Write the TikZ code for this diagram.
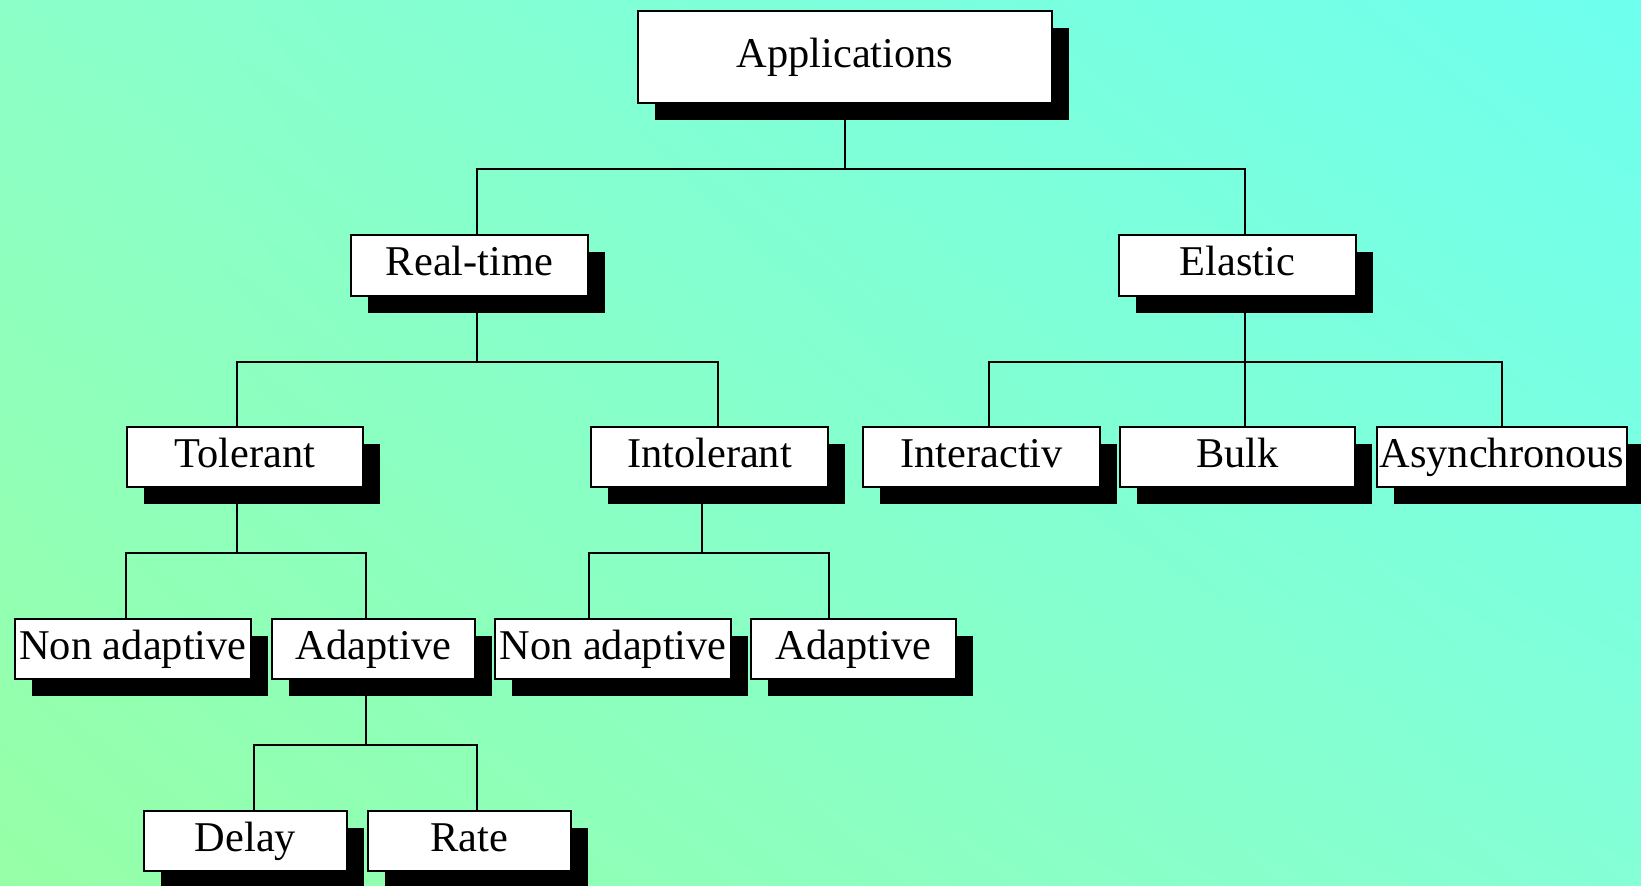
\documentclass[tikz,border=0pt]{standalone}
\usepackage{fontspec}
\setmainfont{Liberation Serif}
\usetikzlibrary{shadows,shadings}
\definecolor{bgUL}{RGB}{140,255,200}
\definecolor{bgUR}{RGB}{110,255,238}
\definecolor{bgLL}{RGB}{150,255,166}
\definecolor{bgLR}{RGB}{132,255,214}
\tikzset{
  box/.style={draw=black, line width=1pt, fill=white, inner sep=0pt,
    text height=14pt, text depth=4pt,
    font=\fontsize{21.2}{25}\selectfont,
    drop shadow={shadow xshift=8.5pt, shadow yshift=-8.5pt, fill=black, opacity=1}},
  conn/.style={draw=black, line width=1.15pt, line join=miter}
}
\newcommand\mybox[6]{%
  \node[box, minimum width={(#3-#2-2)*0.5pt}, minimum height={(#5-#4-2)*0.5pt}]
    (#1) at ({(#2+#3)/2},{(#4+#5)/2}) {#6};}
\begin{document}
\begin{tikzpicture}[x=0.5pt, y=-0.5pt]
\useasboundingbox (0,0) rectangle (1641,885);
\shade[upper left=bgUL, upper right=bgUR, lower left=bgLL, lower right=bgLR]
  (0,0) rectangle (1641,885);

% junction coordinates
\coordinate (b1l) at (477,169);  \coordinate (b1r) at (1245,169);
\coordinate (s2) at (477,362);   \coordinate (b2l) at (237,362);  \coordinate (b2r) at (718,362);
\coordinate (s3) at (1245,362);  \coordinate (b3l) at (989,362);  \coordinate (b3r) at (1502,362);
\coordinate (s4) at (237,553);   \coordinate (b4l) at (126,553);  \coordinate (b4r) at (366,553);
\coordinate (s5) at (702,553);   \coordinate (b5l) at (589,553);  \coordinate (b5r) at (829,553);
\coordinate (s6) at (366,745);   \coordinate (b6l) at (254,745);  \coordinate (b6r) at (477,745);

% connectors (drawn first, under the boxes)
\coordinate (appbot) at (845,104);
\coordinate (rtbot) at (477,297);
\coordinate (elbot) at (1245,297);
\coordinate (tolbot) at (237,488);
\coordinate (intbot) at (702,488);
\coordinate (adbot) at (366,680);
\draw[conn] (appbot) -- (appbot |- b1l);
\draw[conn] (b1l |- 0,234) -- (b1l) -- (b1r) -- (b1r |- 0,234);
\draw[conn] (rtbot) -- (s2);
\draw[conn] (b2l |- 0,426) -- (b2l) -- (b2r) -- (b2r |- 0,426);
\draw[conn] (elbot) -- (s3 |- 0,426);
\draw[conn] (b3l |- 0,426) -- (b3l) -- (b3r) -- (b3r |- 0,426);
\draw[conn] (tolbot) -- (s4);
\draw[conn] (b4l |- 0,618) -- (b4l) -- (b4r) -- (b4r |- 0,618);
\draw[conn] (intbot) -- (s5);
\draw[conn] (b5l |- 0,618) -- (b5l) -- (b5r) -- (b5r |- 0,618);
\draw[conn] (adbot) -- (s6);
\draw[conn] (b6l |- 0,810) -- (b6l) -- (b6r) -- (b6r |- 0,810);

% boxes
\mybox{app}{637}{1053}{10}{104}{Applications}
\mybox{rt}{350}{589}{234}{297}{Real-time}
\mybox{el}{1118}{1357}{234}{297}{Elastic}
\mybox{tol}{126}{364}{426}{488}{Tolerant}
\mybox{intol}{590}{829}{426}{488}{Intolerant}
\mybox{inter}{862}{1101}{426}{488}{Interactiv}
\mybox{bulk}{1119}{1356}{426}{488}{Bulk}
\mybox{async}{1376}{1628}{426}{488}{Asynchronous}
\mybox{naone}{14}{252}{618}{680}{Non adaptive}
\mybox{adone}{271}{476}{618}{680}{Adaptive}
\mybox{natwo}{494}{732}{618}{680}{Non adaptive}
\mybox{adtwo}{750}{957}{618}{680}{Adaptive}
\mybox{delay}{143}{348}{810}{872}{Delay}
\mybox{rate}{367}{572}{810}{872}{Rate}
\end{tikzpicture}
\end{document}
